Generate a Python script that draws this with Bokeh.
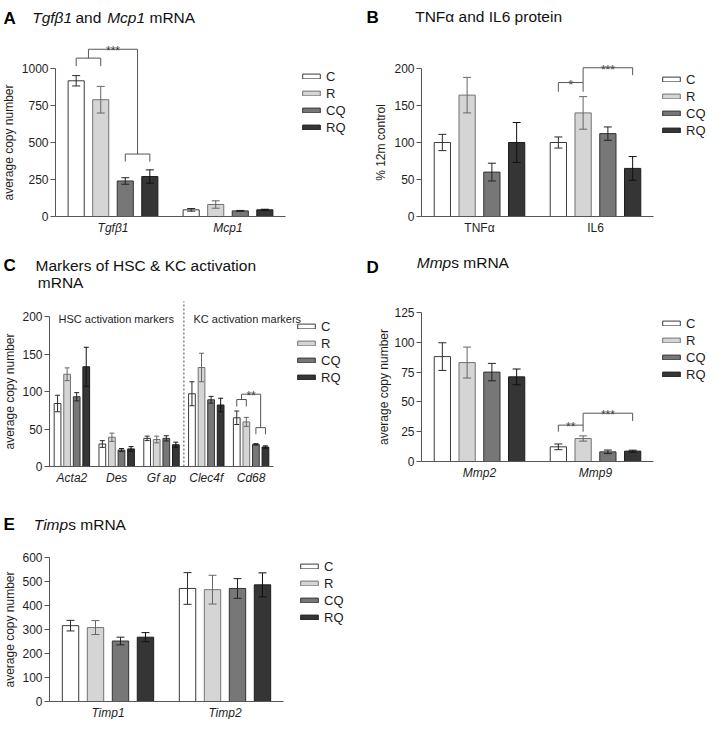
import math
from bokeh.plotting import figure
from bokeh.models import (Range1d, FixedTicker, Label, Whisker, TeeHead, Arrow,
                          ColumnDataSource)
from bokeh.layouts import column, row
from bokeh.embed import file_html
from bokeh.resources import INLINE

# ------------------------------------------------------------------ data
TREATMENTS = ["C", "R", "CQ", "RQ"]

# A  Tgfb1 and Mcp1 mRNA (average copy number)
A_GROUPS = ["Tgfβ1", "Mcp1"]
A_C = [917, 45];    A_C_ERR = [35, 9]
A_R = [789, 81];    A_R_ERR = [90, 25]
A_CQ = [240, 38];   A_CQ_ERR = [22, 3]
A_RQ = [270, 45];   A_RQ_ERR = [45, 4]
A_YTICKS = [0, 250, 500, 750, 1000]
# brackets: (group, left slot, right slot, left leg bottom, right leg bottom, top, text)
A_BRACKETS = [(0, 0, 1, 1016, 1016, 1070, ""),
              (0, 2, 3, 371, 371, 422, ""),
              (0, 0.5, 2.5, 1070, 422, 1130, "***")]

# B  TNFa and IL6 protein (% 12m control)
B_GROUPS = ["TNFα", "IL6"]
B_C = [100, 100];   B_C_ERR = [11, 7.5]
B_R = [164, 140];   B_R_ERR = [24, 22]
B_CQ = [60, 112];   B_CQ_ERR = [12, 9]
B_RQ = [100, 65];   B_RQ_ERR = [27, 16]
B_YTICKS = [0, 50, 100, 150, 200]
B_BRACKETS = [(1, 0, 1, 168.5, 168.5, 181, "*"),
              (1, 1, 3, 181, 191, 201, "***")]

# C  Markers of HSC & KC activation mRNA
C_GROUPS = ["Acta2", "Des", "Gf ap", "Clec4f", "Cd68"]
C_C = [84, 30, 37.5, 97, 65];      C_C_ERR = [11, 4.5, 3, 16, 9]
C_R = [123, 39, 36, 132, 59.5];    C_R_ERR = [8.5, 5.5, 4.5, 19, 6]
C_CQ = [93, 22, 37.5, 89, 29.5];   C_CQ_ERR = [5.5, 2, 3.5, 4.5, 1]
C_RQ = [133, 23.5, 29, 82, 26];    C_RQ_ERR = [26, 3, 3.5, 9, 1.5]
C_YTICKS = [0, 50, 100, 150, 200]
C_BRACKETS = [(4, 0, 1, 80, 80, 89.3, ""),
              (4, 2, 3, 43, 43, 51.8, ""),
              (4, 0.5, 2.5, 89.3, 51.8, 96.4, "**")]
C_SECTIONS = ["HSC activation markers", "KC activation markers"]
C_DIVIDER_GROUP = 3

# D  Mmps mRNA
D_GROUPS = ["Mmp2", "Mmp9"]
D_C = [88, 12.3];   D_C_ERR = [11.6, 2.4]
D_R = [83, 19.3];   D_R_ERR = [13, 2.2]
D_CQ = [75, 8.1];   D_CQ_ERR = [7.3, 1.5]
D_RQ = [71, 8.7];   D_RQ_ERR = [6.6, 0.8]
D_YTICKS = [0, 25, 50, 75, 100, 125]
D_BRACKETS = [(1, 0, 1, 25, 25, 30.5, "**"),
              (1, 1, 3, 30.5, 34, 40.5, "***")]

# E  Timps mRNA
E_GROUPS = ["Timp1", "Timp2"]
E_C = [316, 471];   E_C_ERR = [22, 66]
E_R = [308, 466];   E_R_ERR = [29, 60]
E_CQ = [252, 471];  E_CQ_ERR = [16, 41]
E_RQ = [268, 486];  E_RQ_ERR = [19, 50]
E_YTICKS = [0, 100, 200, 300, 400, 500, 600]

# ------------------------------------------------------------------ style
FONT = "Liberation Sans"
FILL = {"C": "#ffffff", "R": "#d5d5d5", "CQ": "#777777", "RQ": "#353535"}
EDGE = {"C": "#3a3a3a", "R": "#727272", "CQ": "#333333", "RQ": "#1c1c1c"}
ERRC = {"C": "#2a2a2a", "R": "#666666", "CQ": "#222222", "RQ": "#111111"}
AXC = "#555555"
TXT = "#1e1e1e"
SLOT = 0.2135
ITEM_H = 15
LEG_SPACING = 2


def make_panel(spec):
    # geometry: figure W,H and where the axes' 0..max box sits inside it (pixels)
    W, H, L, R, T, B = spec["geom"]
    groups = spec["groups"]
    ng = len(groups)
    ymax = spec["yticks"][-1]
    ppx = (R - L) / ng
    ppy = (B - T) / ymax
    x_lo, x_hi = -L / ppx, ng + (W - R) / ppx
    y_lo, y_hi = -(H - B) / ppy, ymax + T / ppy
    p = figure(width=W, height=H, x_range=Range1d(x_lo, x_hi), y_range=Range1d(y_lo, y_hi),
               output_backend="svg", toolbar_location=None,
               min_border_left=0, min_border_right=0, min_border_top=0, min_border_bottom=0)
    p.background_fill_color = "white"
    p.border_fill_color = "white"
    p.outline_line_color = None
    p.xgrid.visible = False
    p.ygrid.visible = False

    def X(lx):
        return x_lo + lx / ppx

    def Y(ly):
        return y_hi - ly / ppy

    def slot_x(g, s):
        return g + 0.5 + (s - 1.5) * SLOT

    # axes (drawn inside the frame at the data origin)
    xa = p.xaxis[0]
    xa.fixed_location = 0
    xa.bounds = (0, ng)
    xa.ticker = FixedTicker(ticks=[g + 0.5 for g in range(ng)])
    xa.major_label_overrides = {g + 0.5: name for g, name in enumerate(groups)}
    xa.major_tick_out = 0
    xa.major_tick_in = 0
    xa.major_tick_line_color = None
    xa.minor_tick_line_color = None
    xa.axis_line_color = AXC
    xa.major_label_text_font = FONT
    xa.major_label_text_font_size = "12px"
    xa.major_label_text_color = TXT
    xa.major_label_text_font_style = spec["xstyle"]
    xa.major_label_standoff = 4

    ya = p.yaxis[0]
    ya.fixed_location = 0
    ya.bounds = (0, ymax)
    ya.ticker = FixedTicker(ticks=spec["yticks"])
    ya.major_tick_out = 5
    ya.major_tick_in = 0
    ya.minor_tick_line_color = None
    ya.axis_line_color = AXC
    ya.major_tick_line_color = AXC
    ya.major_label_text_font = FONT
    ya.major_label_text_font_size = "12px"
    ya.major_label_text_color = TXT
    ya.major_label_standoff = 2

    # bars + error bars
    bw = spec["bw"]
    cap = spec["cap"]
    for k, t in enumerate(TREATMENTS):
        vals = spec["vals"][k]
        errs = spec["errs"][k]
        xs = [slot_x(g, k) for g in range(ng)]
        src = ColumnDataSource(dict(x=xs, top=vals,
                                    lo=[v - e for v, e in zip(vals, errs)],
                                    hi=[v + e for v, e in zip(vals, errs)]))
        p.vbar(x="x", top="top", bottom=0, width=bw, source=src,
               fill_color=FILL[t], line_color=EDGE[t], line_width=1, legend_label=t)
        p.add_layout(Whisker(source=src, base="x", lower="lo", upper="hi",
                             line_color=ERRC[t], line_width=1, level="overlay",
                             lower_head=TeeHead(size=cap, line_color=ERRC[t], line_width=1),
                             upper_head=TeeHead(size=cap, line_color=ERRC[t], line_width=1)))

    # significance brackets
    x0s, y0s, x1s, y1s = [], [], [], []
    for (g, sl, sr, ybl, ybr, ytop, txt) in spec.get("brackets", []):
        xl, xr = slot_x(g, sl), slot_x(g, sr)
        for seg in [(xl, ybl, xl, ytop), (xl, ytop, xr, ytop), (xr, ytop, xr, ybr)]:
            x0s.append(seg[0]); y0s.append(seg[1]); x1s.append(seg[2]); y1s.append(seg[3])
        if txt:
            p.add_layout(Label(x=(xl + xr) / 2, y=ytop - 2 / ppy, text=txt,
                               text_font=FONT, text_font_size="12px", text_color="#333333",
                               text_align="center", text_baseline="alphabetic"))
    if x0s:
        p.add_layout(Arrow(end=None, source=ColumnDataSource(dict(x0=x0s, y0=y0s, x1=x1s, y1=y1s)),
                           x_start="x0", y_start="y0", x_end="x1", y_end="y1",
                           line_color="#555555", line_width=1))

    # legend (location relative to the frame = whole figure)
    lg = p.legend[0]
    lx, first_c = spec["legend"]
    top = first_c - ITEM_H / 2
    bottom = top + 4 * ITEM_H + 3 * LEG_SPACING
    lg.location = (lx, H - bottom)
    lg.glyph_width = 22
    lg.glyph_height = 6
    lg.label_height = 12
    lg.spacing = LEG_SPACING
    lg.padding = 0
    lg.margin = 0
    lg.label_standoff = 4
    lg.border_line_color = None
    lg.background_fill_alpha = 0
    lg.label_text_font = FONT
    lg.label_text_font_size = "13px"
    lg.label_text_color = TXT

    # y axis label
    ylx, ylv = spec["ylabel_pos"]
    p.add_layout(Label(x=X(ylx), y=ylv, text=spec["ylabel"], angle=math.pi / 2,
                       text_font=FONT, text_font_size="12px", text_color=TXT,
                       text_align="center", text_baseline="middle"))

    # panel letter and title
    let, llx, lly = spec["letter"]
    p.add_layout(Label(x=X(llx), y=Y(lly), text=let, text_font=FONT, text_font_size="17px",
                       text_font_style="bold", text_color="#000000",
                       text_align="left", text_baseline="alphabetic"))
    for (txt, tlx, tly, sty) in spec["title"]:
        p.add_layout(Label(x=X(tlx), y=Y(tly), text=txt, text_font=FONT, text_font_size="15.5px",
                           text_font_style=sty, text_color="#111111",
                           text_align="left", text_baseline="alphabetic"))

    # extra annotations
    for (txt, tlx, tly) in spec.get("notes", []):
        p.add_layout(Label(x=X(tlx), y=Y(tly), text=txt, text_font=FONT, text_font_size="11px",
                           text_color=TXT, text_align="left", text_baseline="alphabetic"))
    if spec.get("divider") is not None:
        gx, ytop_v = spec["divider"]
        p.add_layout(Arrow(end=None, x_start=gx, y_start=0, x_end=gx, y_end=ytop_v,
                           line_color="#444444", line_width=1, line_dash="2 2"))
    return p


MMP_W = 15.5 * 2.222  # width of italic "Mmp"/"Timp" run at 15.5px

# row 1: figures 240 px tall
pA = make_panel(dict(
    geom=(350, 240, 55, 285, 68, 216), groups=A_GROUPS, yticks=A_YTICKS, xstyle="italic",
    vals=[A_C, A_R, A_CQ, A_RQ], errs=[A_C_ERR, A_R_ERR, A_CQ_ERR, A_RQ_ERR],
    bw=0.14, cap=8, brackets=A_BRACKETS, legend=(300, 76),
    ylabel="average copy number", ylabel_pos=(8, 500),
    letter=("A", 3, 18),
    title=[("Tgfβ1", 31.7, 17, "italic"), ("and", 75, 17, "normal"),
           ("Mcp1", 106.7, 17, "italic"), ("mRNA", 149, 17, "normal")]))

pB = make_panel(dict(
    geom=(356, 240, 71, 303, 68, 216), groups=B_GROUPS, yticks=B_YTICKS, xstyle="normal",
    vals=[B_C, B_R, B_CQ, B_RQ], errs=[B_C_ERR, B_R_ERR, B_CQ_ERR, B_RQ_ERR],
    bw=0.14, cap=8, brackets=B_BRACKETS, legend=(310, 79),
    ylabel="% 12m control", ylabel_pos=(30, 100),
    letter=("B", 16, 17),
    title=[("TNFα and IL6 protein", 64.7, 16, "normal")]))

# row 2: figures 244 px tall
pC = make_panel(dict(
    geom=(350, 244, 49, 273, 76, 226), groups=C_GROUPS, yticks=C_YTICKS, xstyle="italic",
    vals=[C_C, C_R, C_CQ, C_RQ], errs=[C_C_ERR, C_R_ERR, C_CQ_ERR, C_RQ_ERR],
    bw=0.15, cap=5, brackets=C_BRACKETS, legend=(295, 86.3),
    ylabel="average copy number", ylabel_pos=(9, 100),
    letter=("C", 3, 24.7),
    title=[("Markers of HSC & KC activation", 35, 24.7, "normal"),
           ("mRNA", 37.3, 42.3, "normal")],
    notes=[(C_SECTIONS[0], 58, 78), (C_SECTIONS[1], 193, 78)],
    divider=(C_DIVIDER_GROUP, 220)))

pD = make_panel(dict(
    geom=(356, 244, 71, 303, 72, 221), groups=D_GROUPS, yticks=D_YTICKS, xstyle="italic",
    vals=[D_C, D_R, D_CQ, D_RQ], errs=[D_C_ERR, D_R_ERR, D_CQ_ERR, D_RQ_ERR],
    bw=0.14, cap=8, brackets=D_BRACKETS, legend=(310, 83.3),
    ylabel="average copy number", ylabel_pos=(33.8, 62.5),
    letter=("D", 16, 26.7),
    title=[("Mmp", 66.3, 21.5, "italic"), ("s mRNA", 66.3 + MMP_W, 21.5, "normal")]))

# row 3: figure 235 px tall
pE = make_panel(dict(
    geom=(350, 235, 49, 283, 73, 217), groups=E_GROUPS, yticks=E_YTICKS, xstyle="italic",
    vals=[E_C, E_R, E_CQ, E_RQ], errs=[E_C_ERR, E_R_ERR, E_CQ_ERR, E_RQ_ERR],
    bw=0.14, cap=8, legend=(298, 82),
    ylabel="average copy number", ylabel_pos=(9, 300),
    letter=("E", 3, 40),
    title=[("Timp", 33.3, 40, "italic"), ("s mRNA", 33.3 + MMP_W, 40, "normal")]))

layout = column(row(pA, pB), row(pC, pD), pE)
open("out.html", "w").write(file_html(layout, INLINE))
